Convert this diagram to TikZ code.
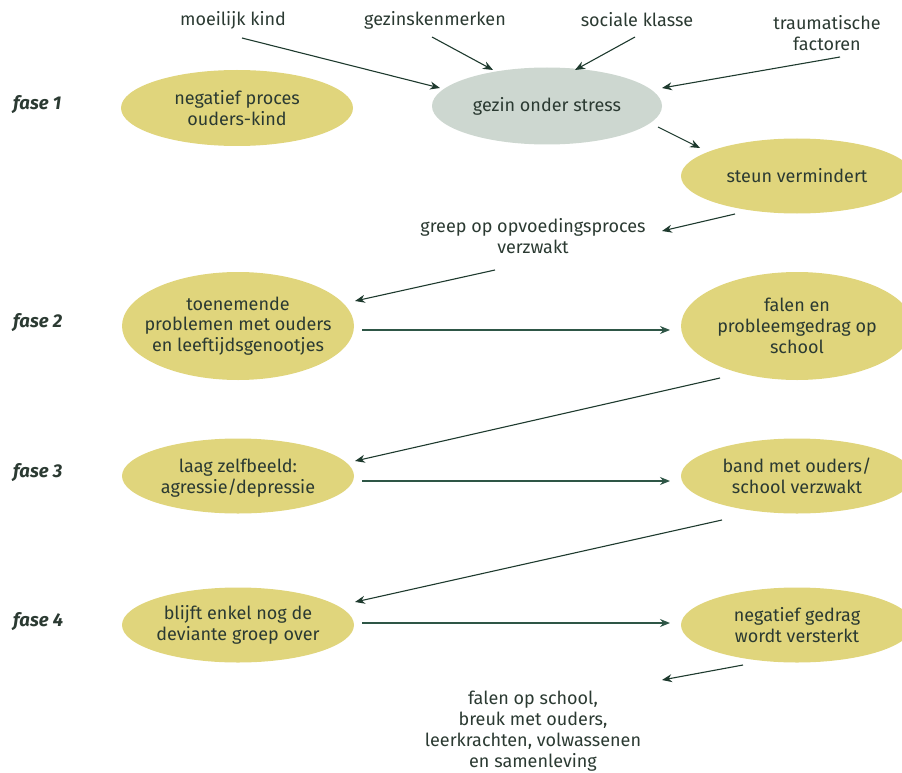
\documentclass[tikz,border=0pt]{standalone}
\usepackage{fontspec}
\setmainfont{Fira Sans}
\usetikzlibrary{shapes.geometric,arrows.meta,calc}
\definecolor{txt}{HTML}{2B3A32}
\definecolor{yel}{HTML}{E0D57C}
\definecolor{gry}{HTML}{CDD7D0}
\definecolor{ln}{HTML}{1E3A2E}
\definecolor{hl}{HTML}{2E5646}
\begin{document}
\begin{tikzpicture}[x=1pt,y=-1pt,
  blob/.style={ellipse, fill=yel, draw=none, inner sep=0pt, minimum width=232pt, minimum height=76pt},
  lbl/.style={align=center, text=txt, font=\fontsize{18}{20.8}\selectfont, inner sep=1pt},
  fase/.style={text=txt, font=\fontsize{18.5}{20}\selectfont\bfseries\itshape, anchor=west, inner sep=0pt},
  arr/.style={draw=ln, line width=1.1pt, -{Stealth[length=10pt,width=8pt]}},
  harr/.style={draw=hl, line width=1.2pt, -{Stealth[length=10pt,width=8pt]}, color=hl},
]
\useasboundingbox (0,0) rectangle (902,773);
\clip (0,0) rectangle (902,773);

% phase labels
\node[fase] (f1) at (13,105) {fase 1};
\node[fase] (f2) at (13,323) {fase 2};
\node[fase] (f3) at (13,473) {fase 3};
\node[fase] (f4) at (13,622) {fase 4};

% ellipses
\node[blob] (np) at (237,108) {};
\node[lbl] (npt) at (np) {negatief proces\\ouders-kind};
\node[blob, fill=gry, minimum width=230pt, minimum height=77pt] (gz) at (547,106) {};
\node[lbl] (gzt) at (gz) {gezin onder stress};
\node[blob, minimum height=75pt] (sv) at (797,176) {};
\node[lbl] (svt) at (sv) {steun vermindert};
\node[blob, minimum height=108pt] (tp) at (238,326) {};
\node[lbl] (tpt) at (tp) {toenemende\\problemen met ouders\\en leeftijdsgenootjes};
\node[blob, minimum height=108pt] (fp) at (797,326) {};
\node[lbl] (fpt) at (fp) {falen en\\probleemgedrag op\\school};
\node[blob, minimum height=75pt] (lz) at (238,476) {};
\node[lbl] (lzt) at ($(lz)+(0,2)$) {laag zelfbeeld:\\agressie/depressie};
\node[blob, minimum height=75pt] (bo) at (797,476) {};
\node[lbl] (bot) at (bo) {band met ouders/\\school verzwakt};
\node[blob, minimum height=75pt] (be) at (238,625) {};
\node[lbl] (bet) at (be) {blijft enkel nog de\\deviante groep over};
\node[blob, minimum height=75pt] (ng) at (797,625) {};
\node[lbl] (ngt) at (ng) {negatief gedrag\\wordt versterkt};

% free labels
\node[lbl] (mk) at (233,20) {moeilijk kind};
\node[lbl] (gk) at (435,20) {gezinskenmerken};
\node[lbl] (sk) at (637,20) {sociale klasse};
\node[lbl] (tf) at (827,33) {traumatische\\factoren};
\node[lbl] (gr) at (533,236) {greep op opvoedingsproces\\verzwakt};
\node[lbl] (fo) at (533,731) {falen op school,\\breuk met ouders,\\leerkrachten, volwassenen\\en samenleving};

% connectors
\draw[arr] ($(mk)+(9,18)$) -- ($(gz)+(-107,-18)$);
\draw[arr] ($(gk)+(-3,17)$) -- ($(gz)+(-54,-36)$);
\draw[arr] ($(sk)+(-2,17)$) -- ($(gz)+(28,-36)$);
\draw[arr] ($(tf)+(13,24)$) -- ($(gz)+(115,-18)$);
\draw[arr] ($(gz)+(111,21)$) -- ($(sv)+(-97,-28)$);
\draw[arr] ($(sv)+(-62,38)$) -- ($(gr)+(129,-5)$);
\draw[arr] ($(gr)+(-38,34)$) -- ($(tp)+(117,-25)$);
\draw[harr] ($(tp)+(124,4)$) -- ($(fp)+(-127,4)$);
\draw[arr] ($(fp)+(-77,52)$) -- ($(lz)+(117,-15)$);
\draw[harr] ($(lz)+(124,5)$) -- ($(bo)+(-127,5)$);
\draw[arr] ($(bo)+(-75,44)$) -- ($(be)+(117,-23)$);
\draw[harr] ($(be)+(124,-2)$) -- ($(ng)+(-127,-2)$);
\draw[arr] ($(ng)+(-54,40)$) -- ($(fo)+(129,-51)$);
\end{tikzpicture}
\end{document}
